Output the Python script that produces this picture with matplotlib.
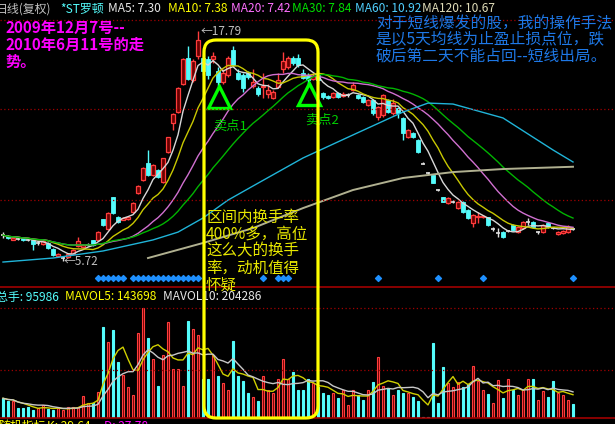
import matplotlib
matplotlib.use("Agg")
import matplotlib.pyplot as plt
from matplotlib.patches import FancyBboxPatch
from matplotlib.lines import Line2D
from matplotlib.transforms import IdentityTransform
import pandas as pd

plt.rcParams['font.family'] = ['Noto Sans CJK SC', 'DejaVu Sans']

# daily candles, *ST罗顿 (forward adjusted)
opens = [7.10, 7.05, 6.85, 6.90, 6.95, 6.85, 6.80, 6.65, 6.60, 6.65,
         6.35, 6.00, 5.88, 5.95, 6.10, 6.50, 6.45, 6.55, 6.80, 6.83,
         7.92, 7.40, 9.08, 8.03, 7.90, 7.95, 8.29, 9.29, 9.97, 10.86,
         10.23, 10.50, 9.87, 11.44, 12.96, 13.54, 15.00, 16.40, 15.20, 16.50,
         16.40, 16.30, 16.30, 15.70, 15.10, 15.50, 16.80, 15.60, 15.50, 15.60,
         14.90, 14.80, 14.85, 14.50, 14.30, 14.85, 15.80, 15.90, 16.40, 16.40,
         15.60, 15.50, 15.30, 15.50, 14.54, 14.38, 14.33, 14.54, 14.40, 14.43,
         14.69, 14.43, 14.33, 13.91, 14.17, 13.28, 13.38, 14.17, 13.49, 13.75,
         13.23, 12.23, 12.44, 12.07, 10.86, 10.34, 10.23, 9.45, 9.08, 8.77,
         8.82, 8.50, 8.82, 8.40, 7.72, 8.03, 8.05, 8.03, 7.40, 7.19,
         7.24, 7.30, 7.61, 7.24, 7.45, 7.77, 7.77, 7.23, 7.24, 7.72,
         7.45, 7.14, 7.19, 7.24, 7.42]
closes = [7.08, 6.95, 6.95, 6.89, 6.80, 6.84, 6.60, 6.66, 6.75, 6.40,
          6.05, 6.10, 5.89, 6.10, 6.30, 6.75, 6.55, 6.56, 6.55, 7.24,
          7.60, 8.24, 8.24, 7.77, 7.98, 8.03, 8.76, 9.66, 10.60, 10.23,
          10.76, 10.13, 11.13, 12.23, 13.44, 14.80, 16.30, 15.30, 16.20, 17.30,
          15.70, 15.50, 16.50, 15.10, 15.60, 16.40, 16.00, 15.30, 14.80, 15.40,
          15.10, 14.50, 14.90, 14.70, 14.60, 15.20, 16.20, 16.40, 16.10, 16.00,
          15.35, 15.20, 15.45, 15.20, 14.33, 14.30, 14.54, 14.33, 14.50, 14.44,
          14.96, 14.27, 14.07, 14.17, 13.49, 13.80, 14.43, 13.54, 14.01, 13.49,
          12.44, 12.60, 12.23, 11.44, 10.84, 10.32, 9.81, 9.43, 8.82, 9.03,
          8.83, 8.82, 8.29, 7.98, 8.14, 8.06, 8.10, 7.61, 7.42, 7.21,
          6.98, 7.30, 7.35, 7.51, 7.77, 7.79, 7.51, 7.25, 7.61, 7.51,
          7.43, 7.24, 7.30, 7.51, 7.40]
highs = [7.25, 7.10, 7.00, 6.98, 7.00, 6.92, 6.85, 6.75, 6.80, 6.70,
         6.40, 6.15, 6.00, 6.15, 6.35, 7.00, 6.60, 6.65, 6.85, 7.30,
         7.95, 8.30, 9.10, 8.10, 8.05, 8.10, 8.80, 9.70, 10.65, 11.55,
         10.80, 10.55, 11.15, 12.25, 13.50, 14.85, 16.35, 17.00, 16.30, 17.79,
         16.60, 16.50, 16.70, 15.90, 15.80, 16.50, 17.00, 15.80, 15.60, 15.70,
         15.80, 14.90, 15.60, 15.00, 14.70, 15.60, 16.70, 16.50, 16.50, 16.60,
         15.80, 15.60, 15.60, 15.70, 14.60, 14.45, 14.60, 14.60, 14.60, 14.55,
         15.11, 14.50, 14.40, 14.25, 14.20, 13.85, 14.50, 14.20, 14.20, 13.80,
         13.30, 12.65, 12.50, 12.10, 10.90, 10.38, 10.25, 9.50, 9.10, 9.10,
         8.90, 8.85, 8.85, 8.45, 8.20, 8.30, 8.15, 8.05, 7.51, 7.45,
         7.30, 7.35, 7.65, 7.55, 7.80, 8.00, 7.80, 7.30, 7.65, 7.75,
         7.50, 7.30, 7.35, 7.60, 7.48]
lows = [6.95, 6.90, 6.80, 6.82, 6.75, 6.78, 6.30, 6.58, 6.55, 6.35,
        6.00, 5.95, 5.72, 5.90, 6.05, 6.45, 6.40, 6.50, 6.50, 6.80,
        7.55, 7.35, 8.20, 7.70, 7.85, 7.90, 8.25, 9.25, 9.90, 10.20,
        10.20, 10.10, 9.80, 11.40, 12.60, 13.50, 14.95, 15.20, 15.10, 16.30,
        15.50, 15.30, 16.10, 14.90, 15.00, 15.40, 15.90, 15.20, 14.60, 15.30,
        14.80, 14.40, 14.30, 14.30, 14.20, 14.80, 15.60, 15.80, 16.00, 15.90,
        15.30, 15.00, 15.20, 15.00, 14.25, 14.20, 14.30, 14.30, 14.35, 14.35,
        14.65, 14.20, 14.00, 13.85, 13.40, 13.10, 13.30, 13.50, 13.40, 13.23,
        12.07, 12.20, 12.20, 11.40, 10.80, 10.28, 9.80, 9.40, 8.80, 8.70,
        8.75, 8.45, 8.25, 7.95, 7.51, 7.72, 8.00, 7.55, 7.30, 7.00,
        6.95, 7.25, 7.30, 7.20, 7.40, 7.60, 7.45, 7.15, 7.20, 7.45,
        7.38, 7.10, 7.15, 7.20, 7.36]
volumes = [140000, 123000, 123000, 69000, 69000, 80000, 57000, 69000, 92000, 62000,
           57000, 69000, 57000, 80000, 80000, 80000, 156000, 104000, 104000, 185000,
           646000, 540000, 625000, 400000, 305000, 220000, 160000, 600000, 780000, 570000,
           420000, 230000, 450000, 680000, 350000, 350000, 230000, 690000, 630000, 590000,
           280000, 280000, 450000, 300000, 250000, 200000, 550000, 300000, 260000, 180000,
           150000, 120000, 300000, 200000, 180000, 280000, 420000, 280000, 330000, 200000,
           200000, 280000, 250000, 220000, 180000, 160000, 175000, 140000, 200000, 90000,
           200000, 160000, 130000, 200000, 255000, 430000, 225000, 210000, 160000, 200000,
           180000, 175000, 150000, 120000, 8000, 10000, 530000, 110000, 360000, 250000,
           220000, 255000, 220000, 240000, 370000, 260000, 200000, 170000, 110000, 270000,
           140000, 280000, 200000, 160000, 200000, 280000, 280000, 130000, 190000, 150000,
           260000, 180000, 160000, 130000, 95986]

# long averages (day index, price)
ma60_days = [0, 10, 20, 30, 35, 40, 45, 50, 60, 70, 80, 85, 90, 100, 110, 114]
ma60_vals = [5.67, 5.88, 6.25, 6.83, 7.24, 7.98, 8.92, 9.66, 11.13, 12.34, 13.54, 14.01, 13.96, 13.23, 11.55, 10.92]
ma120_days = [29, 40, 50, 60, 70, 80, 90, 100, 114]
ma120_vals = [5.88, 6.67, 7.45, 8.50, 9.45, 10.08, 10.39, 10.55, 10.67]

# signal diamonds under the candles
signal_days = [19, 20, 21, 22, 23, 24, 26, 27, 28, 29, 30, 31, 32, 33, 34, 35, 36, 37, 38, 39,
               52, 55, 56, 57, 75, 87, 96, 114]

W, H = 615, 424
fig = plt.figure(figsize=(W / 100, H / 100), dpi=100, facecolor='black')


def fy(py):
    return 1 - py / H


ax = fig.add_axes([0, fy(287), 1, (287 - 20) / H])
axv = fig.add_axes([0, fy(418), 1, (418 - 305) / H])
for a in (ax, axv):
    a.set_facecolor('black')
    a.set_axis_off()
    a.set_xlim(-0.6, 122.4)
ax.set_ylim(4.36, 18.37)
axv.set_ylim(0, 802000)

df = pd.DataFrame({'o': opens, 'c': closes, 'h': highs, 'l': lows, 'v': volumes})
days = list(range(len(df)))
up = df.c >= df.o
flat = (df.c - df.o).abs() < 0.03

# candles
RED, DRED, CYAN = '#ff3c3c', '#6a0000', '#54fcfc'
wick_col = ['#e0e0e0' if f else (RED if u else CYAN) for u, f in zip(up, flat)]
ax.vlines(days, df.l, df.h, colors=wick_col, lw=1, zorder=3)
body_lo = df[['o', 'c']].min(axis=1)
body_h = (df.c - df.o).abs()
for d in days:
    if flat[d]:
        ax.hlines(df.c[d], d - 0.4, d + 0.4, colors='#e0e0e0', lw=1.2, zorder=4)
    elif up[d]:
        ax.bar(d, body_h[d], bottom=body_lo[d], width=0.66, color=DRED, edgecolor=RED, lw=0.9, zorder=4)
    else:
        ax.bar(d, body_h[d], bottom=body_lo[d], width=0.66, color=CYAN, edgecolor=CYAN, lw=0.6, zorder=4)

# moving averages
ma_cols = {5: '#d8d8d8', 10: '#c8c800', 20: '#d070d0', 30: '#00b400'}
for n, col in ma_cols.items():
    ax.plot(days, df.c.rolling(n, min_periods=1).mean(), color=col, lw=1, zorder=5)
ax.plot(ma60_days, ma60_vals, color='#20b4d8', lw=1, zorder=5)
ax.plot(ma120_days, ma120_vals, color='#b0b090', lw=1.4, zorder=5)

ax.scatter(signal_days, [4.83] * len(signal_days), marker='D', s=9, color='#1e90ff', zorder=5)

ax.text(39.6, 17.79, '←17.79', color='#c0c0c0', fontsize=8.5, va='center', ha='left')
ax.text(12.1, 5.72, '←5.72', color='#c0c0c0', fontsize=8.5, va='center', ha='left')

# sell point triangles
ax.plot([43.2], [14.33], marker='^', ms=16, mfc='none', mec='#00ff00', mew=2.4, zorder=7)
ax.plot([61.1], [14.51], marker='^', ms=16, mfc='none', mec='#00ff00', mew=2.4, zorder=7)

# volume
vcol = [DRED if u else CYAN for u in up]
vedge = [RED if u else CYAN for u in up]
axv.bar(days, df.v, width=0.56, color=vcol, edgecolor=vedge, lw=0.8, zorder=3)
axv.plot(days, df.v.rolling(5, min_periods=1).mean(), color='#d0d000', lw=1, zorder=4)
axv.plot(days, df.v.rolling(10, min_periods=1).mean(), color='#c8c8c8', lw=1, zorder=4)

# panel lines
for py in (20, 109, 200, 308, 370):
    fig.add_artist(Line2D([0, 1], [fy(py), fy(py)], color='#a00000', lw=0.9, ls=(0, (1, 2))))
for py in (287, 418):
    fig.add_artist(Line2D([0, 1], [fy(py), fy(py)], color='#a00000', lw=1.2))

# header
hdr = [(-4, '日线(复权)', '#c0c0c0'), (60, '*ST罗顿', '#54fcfc'), (108, 'MA5: 7.30', '#e8e8e8'),
       (168, 'MA10: 7.38', '#ffff00'), (231, 'MA20: 7.42', '#ff70ff'), (292, 'MA30: 7.84', '#00e000'),
       (355, 'MA60: 10.92', '#50d0ff'), (422, 'MA120: 10.67', '#e0dcb8')]
for px, s, col in hdr:
    fig.text(px / W, fy(9), s, color=col, fontsize=8.6, va='center', ha='left')

vh = [(-4, '总手: 95986', '#54fcfc'), (65, 'MAVOL5: 143698', '#ffff00'), (163, 'MAVOL10: 204286', '#e8e8e8')]
for px, s, col in vh:
    fig.text(px / W, fy(297), s, color=col, fontsize=8.6, va='center', ha='left')

fig.text(-2 / W, fy(426), '随机指标', color='#ffff00', fontsize=8.6, va='center', ha='left')
fig.text(47 / W, fy(426), 'K: 29.64', color='#ffff00', fontsize=8.6, va='center', ha='left')
fig.text(104 / W, fy(426), 'D: 27.78', color='#ff00ff', fontsize=8.6, va='center', ha='left')

# annotations
fig.text(5 / W, fy(45), '2009年12月7号--\n2010年6月11号的走\n势。', color='#ff00ff',
         fontsize=11, fontweight='bold', va='center', ha='left', linespacing=1.05)
fig.text(376 / W, fy(40), '对于短线爆发的股，我的操作手法\n是以5天均线为止盈止损点位，跌\n破后第二天不能占回--短线出局。',
         color='#1e78e6', fontsize=11.3, va='center', ha='left', linespacing=0.95)
fig.text(206 / W, fy(251), '区间内换手率\n400%多，高位\n这么大的换手\n率，动机值得\n怀疑', color='#e8e800',
         fontsize=11.2, va='center', ha='left', linespacing=1.0)
fig.text(213 / W, fy(126), '卖点1', color='#00d000', fontsize=9.5, va='center', ha='left')
fig.text(305 / W, fy(120), '卖点2', color='#00d000', fontsize=9.5, va='center', ha='left')

# highlighted range
box = FancyBboxPatch((204, H - 418), 114, 378, boxstyle='round,pad=0,rounding_size=12',
                     fill=False, edgecolor='#ffff00', lw=2.3, transform=IdentityTransform(), zorder=10)
fig.add_artist(box)

fig.savefig('out.png', dpi=100, facecolor='black')
